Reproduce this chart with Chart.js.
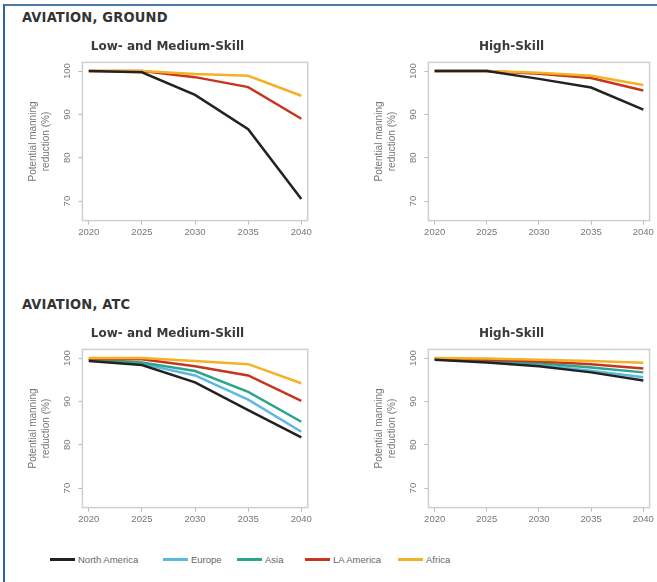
<!DOCTYPE html>
<html>
<head>
<meta charset="utf-8">
<script src="https://cdn.jsdelivr.net/npm/chart.js@4"></script>
<style>
  body { margin: 0; background: #fff; width: 657px; height: 582px; overflow: hidden; position: relative; font-family: "DejaVu Sans Condensed", "DejaVu Sans", sans-serif; }
  .frame { position: absolute; left: 3px; top: 4px; width: 660px; height: 600px; border-top: 2px solid #4a7ba8; border-left: 2px solid #2a63a0; }
  .hdr { position: absolute; left: 22px; font-weight: bold; font-size: 14.5px; color: #333; letter-spacing: 0.2px; }
  .box { position: absolute; width: 292px; height: 206px; }
  .legend { position: absolute; left: 0; top: 554px; width: 657px; height: 16px; font-family: "Liberation Sans", sans-serif; font-size: 9.5px; color: #666; }
  .legend span.item { position: absolute; top: 0; display: flex; align-items: center; white-space: nowrap; }
  .legend span.swatch { display: inline-block; width: 25px; height: 2.5px; margin-right: 3px; }
</style>
</head>
<body>
<div class="frame"></div>
<div class="hdr" style="top:9px">AVIATION, GROUND</div>
<div class="hdr" style="top:296px">AVIATION, ATC</div>
<div class="box" style="left:22px;top:35px"><canvas id="c1"></canvas></div>
<div class="box" style="left:368px;top:35px;width:288px"><canvas id="c2"></canvas></div>
<div class="box" style="left:22px;top:322px"><canvas id="c3"></canvas></div>
<div class="box" style="left:368px;top:322px;width:288px"><canvas id="c4"></canvas></div>
<div class="legend" id="legend"></div>
<script>
// x categories and tick labels
var years = [2020, 2025, 2030, 2035, 2040];
var yTicks = [70, 80, 90, 100];

var regions = ["North America", "Europe", "Asia", "LA America", "Africa"];
var regionColors = ["#222222", "#5bb8e3", "#2ba58c", "#c6361f", "#f4b125"];
var legendLeft = [50, 163, 237, 305, 398];

// Aviation, ground - low and medium skill
var groundLowNA = [100, 99.7, 94.5, 86.6, 70.5];
var groundLowLA = [100, 100, 98.6, 96.3, 89.0];
var groundLowAF = [100, 100, 99.3, 98.9, 94.3];

// Aviation, ground - high skill
var groundHighNA = [100, 100, 98.2, 96.2, 91.1];
var groundHighLA = [100, 100, 99.4, 98.4, 95.5];
var groundHighAF = [100, 100, 99.6, 98.9, 96.8];

// Aviation, ATC - low and medium skill
var atcLowNA = [99.3, 98.4, 94.4, 88.0, 81.7];
var atcLowEU = [99.6, 98.7, 96.0, 90.4, 83.0];
var atcLowAS = [99.7, 99.0, 97.0, 92.2, 85.3];
var atcLowLA = [99.8, 99.7, 98.1, 96.0, 90.1];
var atcLowAF = [100, 100, 99.3, 98.6, 94.2];

// Aviation, ATC - high skill
var atcHighNA = [99.6, 99.0, 98.1, 96.7, 94.8];
var atcHighEU = [99.7, 99.2, 98.4, 97.1, 95.6];
var atcHighAS = [99.8, 99.4, 98.8, 97.8, 96.7];
var atcHighLA = [99.9, 99.6, 99.2, 98.6, 97.6];
var atcHighAF = [100, 99.9, 99.6, 99.3, 98.9];

function series(idx, vals) {
    return {
        label: regions[idx],
        data: vals.map(function (v, i) { return { x: years[i], y: v }; }),
        borderColor: regionColors[idx],
        backgroundColor: regionColors[idx],
        borderWidth: 2.5,
        pointRadius: 0,
        tension: 0,
        order: idx === 0 ? 0 : 5 - idx
    };
}

// light grey box round the plot area
var frameBox = {
    id: 'frameBox',
    afterDraw: function (chart) {
        var a = chart.chartArea, ctx = chart.ctx;
        ctx.save();
        ctx.strokeStyle = '#cfcfcf';
        ctx.lineWidth = 1.5;
        ctx.strokeRect(a.left, a.top, a.right - a.left, a.bottom - a.top);
        ctx.restore();
    }
};

function makeChart(id, title, datasets) {
    new Chart(document.getElementById(id), {
        type: 'line',
        data: { datasets: datasets },
        plugins: [frameBox],
        options: {
            responsive: true,
            maintainAspectRatio: false,
            animation: false,
            layout: { padding: { left: 3, right: 4, top: 0, bottom: 1 } },
            plugins: {
                legend: { display: false },
                tooltip: { enabled: false },
                title: {
                    display: true,
                    text: title,
                    color: '#3a3a3a',
                    font: { family: 'DejaVu Sans', size: 12, weight: 'bold' },
                    padding: { top: 5, bottom: 8 }
                }
            },
            scales: {
                x: {
                    type: 'linear',
                    min: 2019.4,
                    max: 2040.6,
                    afterBuildTicks: function (s) { s.ticks = years.map(function (v) { return { value: v }; }); },
                    grid: { display: true, drawOnChartArea: false, drawTicks: true, tickLength: 4, color: '#bbb' },
                    border: { display: false },
                    ticks: {
                        color: '#777',
                        font: { family: 'Liberation Sans', size: 9.5 },
                        padding: 2,
                        maxRotation: 0,
                        callback: function (v) { return String(v); }
                    }
                },
                y: {
                    min: 65.5,
                    max: 102,
                    afterBuildTicks: function (s) { s.ticks = yTicks.map(function (v) { return { value: v }; }); },
                    grid: { display: true, drawOnChartArea: false, drawTicks: true, tickLength: 4, color: '#bbb' },
                    border: { display: false },
                    ticks: {
                        color: '#777',
                        font: { family: 'Liberation Sans', size: 9.5 },
                        padding: 3,
                        minRotation: 90,
                        maxRotation: 90,
                        crossAlign: 'center'
                    },
                    title: {
                        display: true,
                        text: ['Potential manning', 'reduction (%)'],
                        color: '#777',
                        font: { family: 'Liberation Sans', size: 10, lineHeight: 1.25 },
                        padding: { top: 2, bottom: 9 }
                    }
                }
            }
        }
    });
}

makeChart('c1', 'Low- and Medium-Skill', [
    series(0, groundLowNA), series(3, groundLowLA), series(4, groundLowAF)
]);
makeChart('c2', 'High-Skill', [
    series(0, groundHighNA), series(3, groundHighLA), series(4, groundHighAF)
]);
makeChart('c3', 'Low- and Medium-Skill', [
    series(0, atcLowNA), series(1, atcLowEU), series(2, atcLowAS), series(3, atcLowLA), series(4, atcLowAF)
]);
makeChart('c4', 'High-Skill', [
    series(0, atcHighNA), series(1, atcHighEU), series(2, atcHighAS), series(3, atcHighLA), series(4, atcHighAF)
]);

// shared legend under the four panels
var legend = document.getElementById('legend');
regions.forEach(function (name, i) {
    var item = document.createElement('span');
    item.className = 'item';
    item.style.left = legendLeft[i] + 'px';
    var sw = document.createElement('span');
    sw.className = 'swatch';
    sw.style.background = regionColors[i];
    item.appendChild(sw);
    item.appendChild(document.createTextNode(name));
    legend.appendChild(item);
});
</script>
</body>
</html>
